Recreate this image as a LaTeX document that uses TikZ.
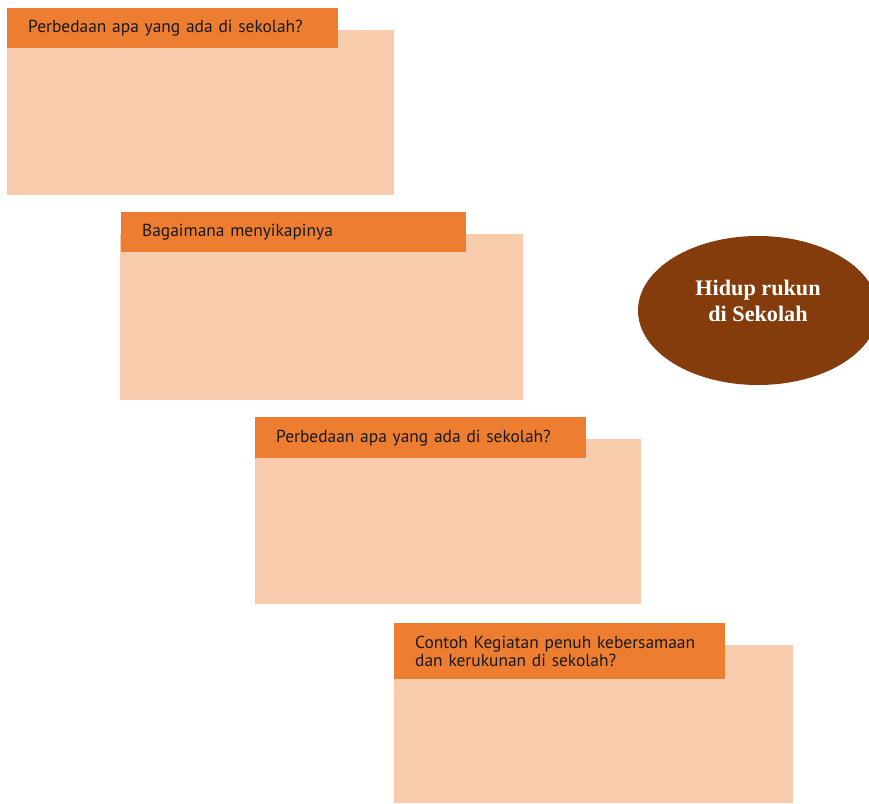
\documentclass[tikz,border=0pt]{standalone}
\usepackage{fontspec}
\setmainfont{PT Sans}
\newfontfamily\judulfont{Liberation Serif}
\usetikzlibrary{calc, shapes.geometric}
\definecolor{oranye}{HTML}{ED7D31}
\definecolor{krem}{HTML}{F8CBAD}
\definecolor{cokelat}{HTML}{843C0C}

\tikzset{
  isi/.style={rectangle, fill=krem, anchor=north west, inner sep=0pt},
  judul/.style={rectangle, fill=oranye, anchor=north west, inner xsep=21pt, inner ysep=0pt,
    align=left, text=black!90, font=\fontsize{17.4}{18.5}\selectfont},
}

\begin{document}
\begin{tikzpicture}[x=1pt, y=-1pt]
        \clip (0,0) rectangle (869,803);

        \coordinate (A) at (7,30);
        \coordinate (B) at (120,234);
        \coordinate (C) at (255,439);
        \coordinate (D) at (394,645);

        \node[isi, minimum width=387pt, minimum height=165pt] (isiA) at (A) {};
        \node[isi, minimum width=403pt, minimum height=166pt] (isiB) at (B) {};
        \node[isi, minimum width=386pt, minimum height=165pt] (isiC) at (C) {};
        \node[isi, minimum width=399pt, minimum height=158pt] (isiD) at (D) {};

        \node[judul, text width=289pt, minimum height=40pt] (judulA) at ($(A)+(0,-22)$) {Perbedaan apa yang ada di sekolah?};
        \node[judul, text width=303pt, minimum height=40pt] (judulB) at ($(B)+(1,-22)$) {Bagaimana menyikapinya};
        \node[judul, text width=289pt, minimum height=41pt] (judulC) at ($(C)+(0,-22)$) {Perbedaan apa yang ada di sekolah?};
        \node[judul, text width=289pt, minimum height=56pt] (judulD) at ($(D)+(0,-22)$) {Contoh Kegiatan penuh kebersamaan\\dan kerukunan di sekolah?};

        \node[ellipse, fill=cokelat, minimum width=240pt, minimum height=149pt, inner sep=0pt] (tema) at (758,310.5) {};
        \node[align=center, text=white, font=\judulfont\bfseries\fontsize{22.2}{26.5}\selectfont] (temaTeks) at ($(tema.center)+(0,-9.5)$) {Hidup rukun\\di Sekolah};
    \end{tikzpicture}
\end{document}
